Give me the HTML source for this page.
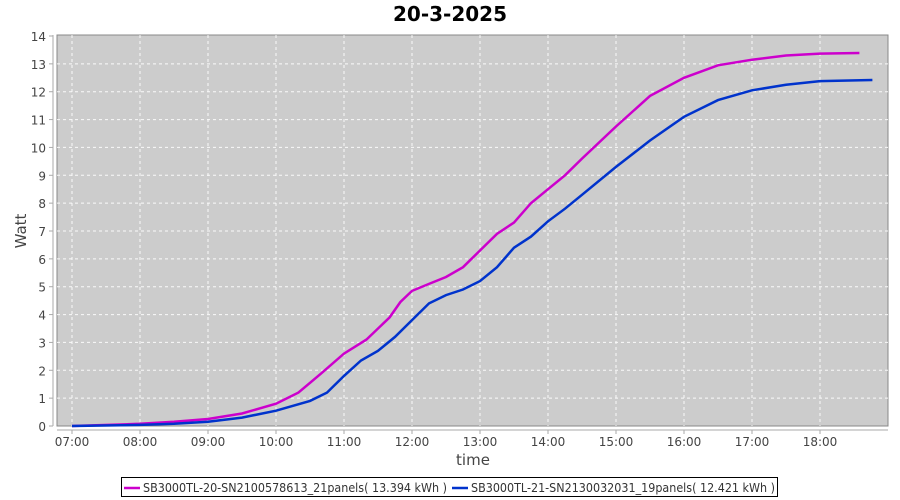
<!DOCTYPE html>
<html><head><meta charset="utf-8"><style>body{margin:0;background:#fff}svg{display:block}text{font-family:"DejaVu Sans","Liberation Sans",sans-serif}</style></head>
<body>
<svg id="s" width="900" height="500" xmlns="http://www.w3.org/2000/svg">
<text x="450" y="21" text-anchor="middle" font-size="20" font-weight="bold" fill="#000">20-3-2025</text>
<rect x="57" y="35" width="831" height="391" fill="#cccccc" stroke="#888" stroke-width="1"/>
<g id="grid" stroke="#fff" stroke-width="1" stroke-dasharray="3,3" opacity="0.9"></g>
<g id="ax" fill="#444" font-size="12"></g>
<line x1="53" y1="35" x2="53" y2="426" stroke="#aaa"/>
<line x1="57" y1="430" x2="888" y2="430" stroke="#aaa"/>
<text x="26" y="231" font-size="15" fill="#444" transform="rotate(-90 26 231)" text-anchor="middle">Watt</text>
<text x="473" y="465" font-size="15" fill="#444" text-anchor="middle">time</text>
<path id="m" fill="none" stroke="#cc00cc" stroke-width="2.5"/>
<path id="b" fill="none" stroke="#0033cc" stroke-width="2.5"/>
<rect x="121.5" y="477.5" width="656" height="19" fill="#fff" stroke="#000"/>
<line x1="124" y1="488" x2="140" y2="488" stroke="#cc00cc" stroke-width="2.5"/>
<text x="143" y="492" font-size="12" fill="#333" textLength="304" lengthAdjust="spacingAndGlyphs">SB3000TL-20-SN2100578613_21panels( 13.394 kWh  )</text>
<line x1="452" y1="488" x2="468" y2="488" stroke="#0033cc" stroke-width="2.5"/>
<text x="471" y="492" font-size="12" fill="#333" textLength="304" lengthAdjust="spacingAndGlyphs">SB3000TL-21-SN2130032031_19panels( 12.421 kWh  )</text>
</svg>
<script>
const X=h=>72+(h-7)*68, Y=v=>426-v*27.857;
let g=document.getElementById('grid'),a=document.getElementById('ax'),ns='http://www.w3.org/2000/svg';
function el(p,t,at,txt){let e=document.createElementNS(ns,t);for(let k in at)e.setAttribute(k,at[k]);if(txt!==undefined)e.textContent=String(txt);p.appendChild(e);}
for(let v=0;v<=14;v++){let y=Y(v);if(v>0&&v<14)el(g,'line',{x1:57,x2:888,y1:y,y2:y});el(a,'line',{x1:49,x2:53,y1:y,y2:y,stroke:'#aaa'});el(a,'text',{x:46,y:y+5,'text-anchor':'end'},v);}
for(let h=7;h<=18;h++){let x=X(h);el(g,'line',{x1:x,x2:x,y1:35,y2:426});el(a,'line',{x1:x,x2:x,y1:430,y2:434,stroke:'#aaa'});el(a,'text',{x:x,y:446,'text-anchor':'middle'},(h<10?'0':'')+h+':00');}
const M=[[7,0],[8,0.08],[8.5,0.15],[9,0.25],[9.5,0.45],[10,0.8],[10.33,1.2],[10.67,1.9],[11,2.6],[11.33,3.1],[11.67,3.9],[11.83,4.45],[12,4.85],[12.25,5.1],[12.5,5.35],[12.75,5.7],[13,6.3],[13.25,6.9],[13.5,7.3],[13.75,8.0],[14,8.5],[14.25,9.0],[14.5,9.6],[15,10.75],[15.5,11.85],[16,12.5],[16.5,12.95],[17,13.15],[17.5,13.3],[18,13.37],[18.58,13.39]];
const B=[[7,0],[8,0.04],[8.5,0.08],[9,0.15],[9.5,0.3],[10,0.55],[10.5,0.9],[10.75,1.2],[11,1.8],[11.25,2.35],[11.5,2.7],[11.75,3.2],[12,3.8],[12.25,4.4],[12.5,4.7],[12.75,4.9],[13,5.2],[13.25,5.7],[13.5,6.4],[13.75,6.8],[14,7.35],[14.25,7.8],[14.5,8.3],[15,9.3],[15.5,10.25],[16,11.1],[16.5,11.7],[17,12.05],[17.5,12.25],[18,12.38],[18.77,12.42]];
const p=d=>'M'+d.map(q=>X(q[0]).toFixed(1)+','+Y(q[1]).toFixed(1)).join('L');
document.getElementById('m').setAttribute('d',p(M));document.getElementById('b').setAttribute('d',p(B));
</script>
</body></html>
